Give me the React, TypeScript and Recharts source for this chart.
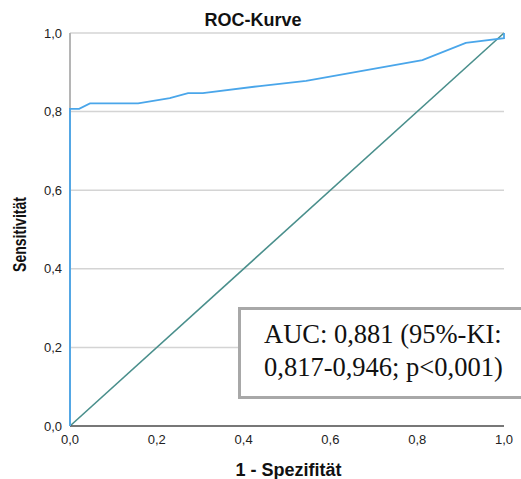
import React from "react";
import { LineChart, Line, XAxis, YAxis, CartesianGrid } from "recharts";

const fpr = [0, 0, 0.021, 0.046, 0.157, 0.23, 0.272, 0.306, 0.437, 0.544, 0.812, 0.912, 1.0, 1.0];
const tpr = [0, 0.807, 0.807, 0.821, 0.821, 0.834, 0.847, 0.847, 0.865, 0.878, 0.931, 0.975, 0.987, 1.0];
const diagX = [0, 1];
const diagY = [0, 1];
const ticks = [0, 0.2, 0.4, 0.6, 0.8, 1.0];
const title = "ROC-Kurve";
const xLabel = "1 - Spezifität";
const yLabel = "Sensitivität";
const aucLines = ["AUC: 0,881 (95%-KI:", "0,817-0,946; p<0,001)"];

const rocData = fpr.map((x, i) => ({ x, y: tpr[i] }));
const diagData = diagX.map((x, i) => ({ x, y: diagY[i] }));

const fmt = (v: number) => v.toFixed(1).replace(".", ",");
const sans = "'Liberation Sans', Arial, sans-serif";

export default function App() {
  return (
    <div
      style={{
        position: "absolute",
        left: 0,
        top: 0,
        width: 521,
        height: 479,
        overflow: "hidden",
        background: "#fff",
      }}
    >
      <LineChart
        width={521}
        height={479}
        margin={{ top: 33, right: 17, bottom: 0, left: 0 }}
      >
        <CartesianGrid vertical={false} stroke="#d4d4d4" strokeWidth={1.5} />
        <XAxis
          type="number"
          dataKey="x"
          domain={[0, 1]}
          ticks={ticks}
          tickFormatter={fmt}
          height={53}
          tickLine={false}
          tickMargin={3}
          axisLine={{ stroke: "#555", strokeWidth: 1.5 }}
          tick={{ fill: "#222", fontSize: 13, fontFamily: sans }}
        />
        <YAxis
          type="number"
          dataKey="y"
          domain={[0, 1]}
          ticks={ticks}
          tickFormatter={fmt}
          width={70}
          tickLine={false}
          axisLine={{ stroke: "#b5b5b5", strokeWidth: 2 }}
          tick={{ fill: "#222", fontSize: 13, fontFamily: sans }}
        />
        <Line
          data={diagData}
          dataKey="y"
          type="linear"
          stroke="#4a8f8c"
          strokeWidth={1.6}
          dot={false}
          isAnimationActive={false}
        />
      </LineChart>
      <div style={{ position: "absolute", left: 0, top: 0 }}>
        <LineChart
          width={521}
          height={479}
          margin={{ top: 33, right: 17, bottom: 53, left: 70 }}
        >
          <XAxis type="number" dataKey="x" domain={[0, 1]} hide />
          <YAxis type="number" dataKey="y" domain={[0, 1]} hide />
          <Line
            data={rocData}
            dataKey="y"
            type="linear"
            stroke="#4aa6ea"
            strokeWidth={1.8}
            dot={false}
            isAnimationActive={false}
          />
        </LineChart>
      </div>
      <svg
        width={521}
        height={479}
        style={{ position: "absolute", left: 0, top: 0, pointerEvents: "none" }}
      >
        <text
          x={253}
          y={26}
          textAnchor="middle"
          fontFamily={sans}
          fontWeight="bold"
          fontSize={18}
          fill="#111"
        >
          {title}
        </text>
        <text
          x={288.5}
          y={476}
          textAnchor="middle"
          fontFamily={sans}
          fontWeight="bold"
          fontSize={18}
          fill="#111"
        >
          {xLabel}
        </text>
        <text
          x={26}
          y={234.5}
          transform="rotate(-90, 26, 234.5)"
          textAnchor="middle"
          fontFamily={sans}
          fontWeight="bold"
          fontSize={18}
          fill="#111"
          textLength={75}
          lengthAdjust="spacingAndGlyphs"
        >
          {yLabel}
        </text>
      </svg>
      <div
        style={{
          position: "absolute",
          left: 238,
          top: 307,
          width: 320,
          height: 92,
          boxSizing: "border-box",
          border: "3px solid #a8a8a8",
          background: "#fff",
          paddingTop: 7.6,
          paddingLeft: 23,
          fontFamily: "'Liberation Serif', 'Times New Roman', serif",
          fontSize: 26.5,
          lineHeight: "33px",
          color: "#111",
          whiteSpace: "nowrap",
        }}
      >
        {aucLines.map((l, i) => (
          <div key={i}>{l}</div>
        ))}
      </div>
    </div>
  );
}
